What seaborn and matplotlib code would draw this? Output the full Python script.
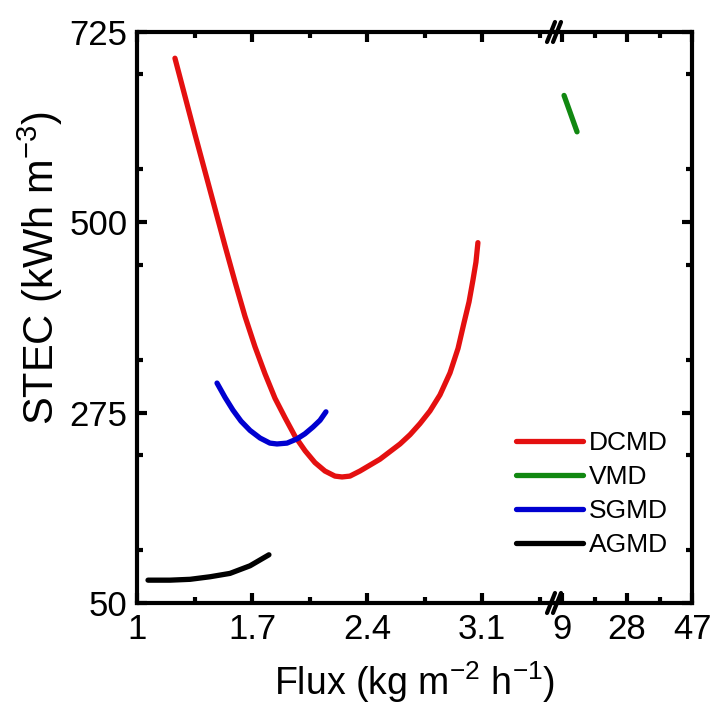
import numpy as np
import pandas as pd
import matplotlib
matplotlib.use('Agg')
import matplotlib.pyplot as plt
import seaborn as sns
from matplotlib.ticker import MultipleLocator, FixedLocator

sns.set_style("ticks")
plt.rcParams['font.family'] = ['Liberation Sans', 'DejaVu Sans']
plt.rcParams['mathtext.default'] = 'regular'
for k in ['text.color', 'axes.labelcolor', 'xtick.color', 'ytick.color', 'axes.edgecolor']:
    plt.rcParams[k] = 'black'

# values
dcmd_flux = [1.231, 1.292, 1.353, 1.414, 1.475, 1.536, 1.596, 1.657, 1.718, 1.779,
             1.840, 1.901, 1.962, 2.023, 2.083, 2.144, 2.205, 2.248, 2.296, 2.357,
             2.418, 2.479, 2.540, 2.601, 2.662, 2.722, 2.783, 2.844, 2.905, 2.954,
             2.990, 3.021, 3.045, 3.063, 3.075]
dcmd_stec = [694, 649, 604, 560, 516, 472, 430, 389, 353, 321,
             292, 269, 247, 230, 216, 206, 200, 199, 200, 206,
             213, 220, 229, 238, 249, 262, 277, 296, 322, 351,
             381, 406, 432, 453, 476]

sgmd_flux = [1.487, 1.536, 1.584, 1.633, 1.688, 1.749, 1.809, 1.852, 1.913, 1.974,
             2.022, 2.071, 2.114, 2.150]
sgmd_stec = [310, 293, 278, 265, 254, 245, 239, 238, 239, 244,
             250, 258, 266, 276]

agmd_flux = [1.067, 1.201, 1.323, 1.444, 1.566, 1.688, 1.803]
agmd_stec = [77, 77, 78, 81, 85, 94, 107]

vmd_flux = [9.6, 13.4]
vmd_stec = [650, 607]

modes = ['DCMD', 'VMD', 'SGMD', 'AGMD']
colors = {'DCMD': '#e41010', 'VMD': '#118811', 'SGMD': '#0000d0', 'AGMD': '#000000'}

df = pd.concat([
    pd.DataFrame({'Flux': dcmd_flux, 'STEC': dcmd_stec, 'Mode': 'DCMD'}),
    pd.DataFrame({'Flux': vmd_flux, 'STEC': vmd_stec, 'Mode': 'VMD'}),
    pd.DataFrame({'Flux': sgmd_flux, 'STEC': sgmd_stec, 'Mode': 'SGMD'}),
    pd.DataFrame({'Flux': agmd_flux, 'STEC': agmd_stec, 'Mode': 'AGMD'}),
])

fig = plt.figure(figsize=(7.2, 7.28), dpi=100)
W, H = 720, 728
left, right, top, bottom, brk = 137, 692, 32, 603, 555
ax1 = fig.add_axes([left / W, 1 - bottom / H, (brk - left) / W, (bottom - top) / H])
ax2 = fig.add_axes([brk / W, 1 - bottom / H, (right - brk) / W, (bottom - top) / H], sharey=ax1)

low = df[df['Flux'] < 5]
high = df[df['Flux'] >= 5]
sns.lineplot(data=low, x='Flux', y='STEC', hue='Mode', palette=colors, ax=ax1,
             linewidth=3.8, sort=False, estimator=None, legend=False,
             solid_capstyle='round', solid_joinstyle='round')
sns.lineplot(data=high, x='Flux', y='STEC', hue='Mode', palette=colors, ax=ax2,
             linewidth=3.8, sort=False, estimator=None, legend=False,
             solid_capstyle='round')

ax1.set_xlim(1, 1 + (brk - left) / 164.3)
ax2.set_xlim(9 - (562 - brk) / 3.421, 47)
ax1.set_ylim(50, 725)

ax1.set_xticks([1, 1.7, 2.4, 3.1])
ax1.set_xticklabels(['1', '1.7', '2.4', '3.1'])
ax1.xaxis.set_minor_locator(FixedLocator([1.35, 2.05, 2.75, 3.45]))
ax2.set_xticks([9, 28, 47])
ax2.xaxis.set_minor_locator(FixedLocator([18.5, 37.5]))
ax1.set_yticks([50, 275, 500, 725])
ax1.yaxis.set_minor_locator(MultipleLocator(112.5))

for ax in (ax1, ax2):
    ax.set_xlabel('')
    ax.set_ylabel('')
    for s in ax.spines.values():
        s.set_linewidth(3)
    ax.tick_params(which='major', direction='in', length=7, width=3,
                   labelsize=25, top=True, right=True, pad=7)
    ax.tick_params(which='minor', direction='in', length=4, width=3, top=True, right=True)

ax1.spines['right'].set_visible(False)
ax2.spines['left'].set_visible(False)
ax1.tick_params(which='both', right=False)
ax2.tick_params(which='both', left=False, labelleft=False)

# break marks
for ypix in (bottom, top):
    for dx in (-4, 2):
        x0 = (brk + dx - 4) / W
        x1 = (brk + dx + 4) / W
        y0 = 1 - ypix / H - 10 / H
        y1 = y0 + 20 / H
        fig.add_artist(plt.Line2D([x0, x1], [y0, y1], color='black', lw=3))

fig.text((left + right) / 2 / W, 1 - 682 / H, r'Flux (kg m$^{-2}$ h$^{-1}$)',
         ha='center', va='center', fontsize=27)
fig.text(40 / W, 1 - 268 / H, r'STEC (kWh m$^{-3}$)', rotation=90,
         ha='center', va='center', fontsize=30)

handles = [plt.Line2D([], [], color=colors[k], lw=3.8) for k in modes]
fig.legend(handles, modes, loc='upper left',
           bbox_to_anchor=(503 / W, 1 - 418 / H), frameon=False, fontsize=19,
           handlelength=2.55, handletextpad=0.2, labelspacing=0.38, borderpad=0)

fig.savefig('out.png', dpi=100)
